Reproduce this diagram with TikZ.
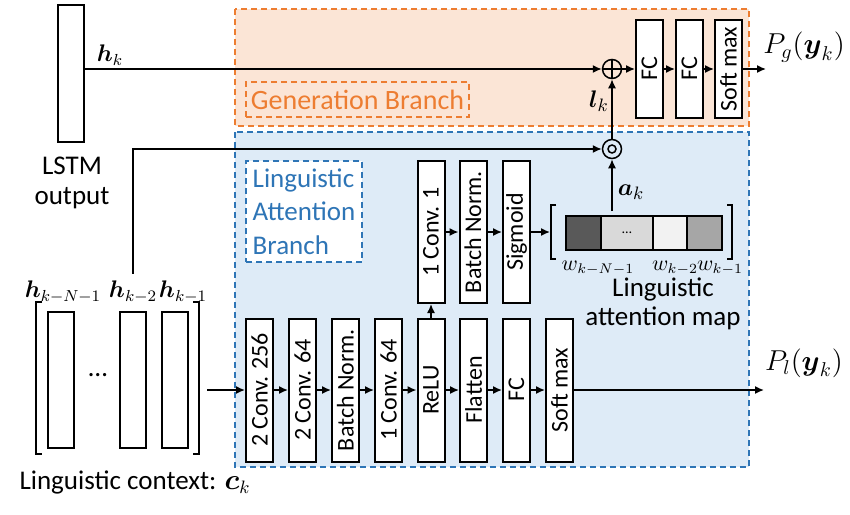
\documentclass[tikz,border=0pt]{standalone}
\usepackage{amsmath}
\usepackage{amssymb}
\usepackage{graphicx}
\usepackage{fontspec}
\setmainfont{Carlito}
\usetikzlibrary{arrows.meta}
\definecolor{genfill}{HTML}{FBE5D6}
\definecolor{genline}{HTML}{ED7D31}
\definecolor{attfill}{HTML}{DEEBF7}
\definecolor{attline}{HTML}{2E75B6}
\tikzset{
  layer/.style={draw, line width=1pt, fill=white, inner sep=0pt, minimum width=13.5pt, font=\fontsize{12}{14}\selectfont},
  lowlayer/.style={layer, minimum height=71.5pt},
  attlayer/.style={layer, minimum height=71pt},
  genlayer/.style={layer, minimum height=49pt},
  vec/.style={draw, line width=1pt, fill=white, inner sep=0pt, minimum width=13pt},
  cell/.style={draw, line width=1pt, inner sep=0pt, minimum height=17pt},
  arr/.style={-{Latex[length=4.5pt,width=4pt]}, line width=0.75pt},
  bigtext/.style={font=\fontsize{13.5}{15}\selectfont},
  branchbox/.style={dashed, dash pattern=on 3pt off 2pt, line width=0.6pt}
}
\begin{document}
\begin{tikzpicture}[x=0.5pt,y=-0.5pt]
\useasboundingbox (0,0) rectangle (850,514);
% the two branches
\draw[branchbox, draw=genline, fill=genfill] (235,9) rectangle (749,126);
\draw[branchbox, draw=attline, fill=attfill] (235,132) rectangle (749,467);
\node[branchbox, draw=genline, text=genline, font=\fontsize{14}{16}\selectfont, minimum width=111.5pt, minimum height=17.5pt, inner sep=0pt] (gentag) at (357.5,99.5) {Generation Branch};
\node[branchbox, draw=attline, fill=white, text=attline, font=\fontsize{13.5}{16.7}\selectfont, align=left, minimum width=58pt, minimum height=50.5pt, inner sep=0pt] (atttag) at (304,211.5) {Linguistic\\Attention\\Branch};

% LSTM output
\node[vec, minimum height=68.5pt] (lstm) at (71,73.5) {};
\node[bigtext, align=center] (lstmtxt) at (72,183) {LSTM\\output};
\node[font=\fontsize{11.5}{13}\selectfont] (hk) at (110,55) {$\boldsymbol{h}_k$};

% linguistic context
\node[vec, minimum height=68pt] (ctx1) at (61,380) {};
\node[vec, minimum height=68pt] (ctx2) at (133,380) {};
\node[vec, minimum height=68pt] (ctx3) at (174.5,380) {};
\node[bigtext] (ctxdots) at (98,375) {\dots};
\draw[line width=0.6pt] (42,302) -- (36,302) -- (36,454) -- (42,454);
\draw[line width=0.6pt] (193,302) -- (199,302) -- (199,454) -- (193,454);
\node[font=\fontsize{11.5}{13}\selectfont] (hkN) at (63,292) {$\boldsymbol{h}_{k-N-1}$};
\node[font=\fontsize{11.5}{13}\selectfont] (hk2) at (133,292) {$\boldsymbol{h}_{k-2}$};
\node[font=\fontsize{11.5}{13}\selectfont] (hk1) at (183,292) {$\boldsymbol{h}_{k-1}$};
\node[bigtext] (ctxtxt) at (135,482) {Linguistic context: $\boldsymbol{c}_k$};
\coordinate (ctxout) at (207,390);

% lower row
\node[lowlayer] (conva) at (259.5,390) {\rotatebox{90}{2 Conv. 256}};
\node[lowlayer] (convb) at (302.5,390) {\rotatebox{90}{2 Conv. 64}};
\node[lowlayer] (bna) at (345.5,390) {\rotatebox{90}{Batch Norm.}};
\node[lowlayer] (convc) at (388.5,390) {\rotatebox{90}{1 Conv. 64}};
\node[lowlayer] (relu) at (431,390) {\rotatebox{90}{ReLU}};
\node[lowlayer] (flat) at (473.5,390) {\rotatebox{90}{Flatten}};
\node[lowlayer] (lfc) at (516.5,390) {\rotatebox{90}{FC}};
\node[lowlayer] (lsm) at (559.5,390) {\rotatebox{90}{Soft max}};
\coordinate (plout) at (764,390);
\node[font=\fontsize{14.5}{16}\selectfont] (pl) at (804,363) {$P_l(\boldsymbol{y}_k)$};

% attention row
\node[attlayer] (convd) at (431,232) {\rotatebox{90}{1 Conv. 1}};
\node[attlayer] (bnb) at (473,232) {\rotatebox{90}{Batch Norm.}};
\node[attlayer] (sig) at (516.5,232) {\rotatebox{90}{Sigmoid}};
\coordinate (mapin) at (550,232);

% attention map
\node[cell, fill=black!65, minimum width=17.5pt] (wa) at (583.5,233) {};
\node[cell, fill=black!15, minimum width=26pt, font=\fontsize{7}{8}\selectfont] (wb) at (627,233) {\dots};
\node[cell, fill=black!5, minimum width=17pt] (wc) at (670,233) {};
\node[cell, fill=black!35, minimum width=17.5pt] (wd) at (704.5,233) {};
\draw[line width=0.6pt] (556,205) -- (551,205) -- (551,259) -- (556,259);
\draw[line width=0.6pt] (727,205) -- (732,205) -- (732,259) -- (727,259);
\node[font=\fontsize{10.5}{12}\selectfont] (wkN) at (598,268) {$w_{k-N-1}$};
\node[font=\fontsize{10.5}{12}\selectfont] (wk2) at (675,268) {$w_{k-2}$};
\node[font=\fontsize{10.5}{12}\selectfont] (wk1) at (720,268) {$w_{k-1}$};
\node[align=center, font=\fontsize{13.5}{14.5}\selectfont] (maptxt) at (663,304) {Linguistic\\attention map};
\coordinate (ak) at (612,211);

% fusion
\node[circle, draw, line width=0.75pt, minimum size=9.5pt, inner sep=0pt] (oplus) at (612,69) {};
\draw[line width=0.75pt] (oplus.north) -- (oplus.south) (oplus.west) -- (oplus.east);
\node[circle, draw, line width=0.75pt, minimum size=9.5pt, inner sep=0pt] (odot) at (612,149) {};
\draw[line width=0.75pt] (odot) circle (2pt);
\node[font=\fontsize{12.5}{14}\selectfont] (lk) at (599,101) {$\boldsymbol{l}_k$};
\node[font=\fontsize{12.5}{14}\selectfont] (akt) at (631,192) {$\boldsymbol{a}_k$};

% generation row
\node[genlayer] (gfca) at (649.5,69) {\rotatebox{90}{FC}};
\node[genlayer] (gfcb) at (689.5,69) {\rotatebox{90}{FC}};
\node[genlayer] (gsm) at (728.5,69) {\rotatebox{90}{Soft max}};
\coordinate (pgout) at (766,69);
\node[font=\fontsize{14.5}{16}\selectfont] (pg) at (804,47) {$P_g(\boldsymbol{y}_k)$};

% connections
\draw[arr] (lstm.east |- oplus) -- (oplus);
\draw[arr] (hk2.north) |- (odot);
\draw[arr] (ctxout) -- (conva);
\draw[arr] (conva) -- (convb);
\draw[arr] (convb) -- (bna);
\draw[arr] (bna) -- (convc);
\draw[arr] (convc) -- (relu);
\draw[arr] (relu) -- (flat);
\draw[arr] (flat) -- (lfc);
\draw[arr] (lfc) -- (lsm);
\draw[arr] (lsm) -- (plout);
\draw[arr] (relu) -- (convd);
\draw[arr] (convd) -- (bnb);
\draw[arr] (bnb) -- (sig);
\draw[arr] (sig) -- (mapin);
\draw[arr] (ak) -- (odot);
\draw[arr] (odot) -- (oplus);
\draw[arr] (oplus) -- (gfca);
\draw[arr] (gfca) -- (gfcb);
\draw[arr] (gfcb) -- (gsm);
\draw[arr] (gsm) -- (pgout);
\end{tikzpicture}
\end{document}
